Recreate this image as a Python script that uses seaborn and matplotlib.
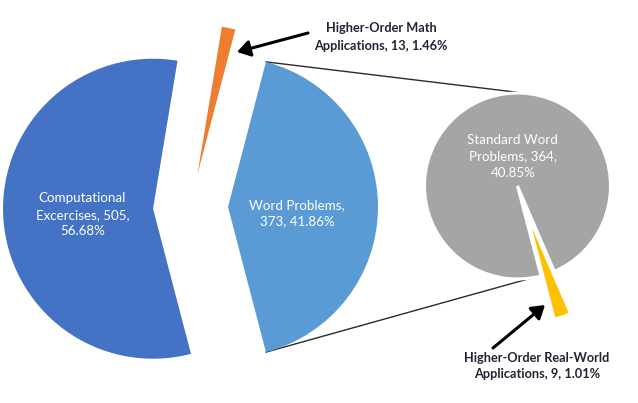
import numpy as np
import matplotlib
matplotlib.use("Agg")
import matplotlib.pyplot as plt
import seaborn as sns

# ---- data ----
main_labels = ["Word Problems", "Higher-Order Math\nApplications", "Computational\nExcercises"]
main_values = [373, 13, 505]
sub_labels = ["Standard Word\nProblems", "Higher-Order Real-World\nApplications"]
sub_values = [364, 9]

main_colors = ["#5B9BD5", "#ED7D31", "#4472C4"]
sub_colors = ["#A5A5A5", "#FFC000"]

sns.set_theme(style="white")
plt.rcParams["font.family"] = ["Lato", "DejaVu Sans"]

W, H = 638, 403
fig = plt.figure(figsize=(W / 100, H / 100), dpi=100)
ax = fig.add_axes([0, 0, 1, 1])

total = sum(main_values)
pct = lambda v: f"{v / total * 100:.2f}%"

def py(y):  # pixel-row to data y
    return H - y

# ---- main pie ----
c1 = (190.5, py(207))
r1 = 150
start1 = -main_values[0] / total * 180
w1, _ = ax.pie(main_values, colors=sns.color_palette(main_colors), radius=r1, center=c1,
               startangle=start1, counterclock=True,
               explode=[0.25 * r1, 0.22 * r1, 0.25 * r1],
               wedgeprops=dict(linewidth=0), frame=True)

# ---- sub pie ----
c2 = (517.5, py(186))
r2 = 93
s_frac = sub_values[0] / sum(sub_values) * 360
yellow_mid = -71.0
start2 = yellow_mid - s_frac - (360 - s_frac) / 2 + 360
w2, _ = ax.pie(sub_values, colors=sns.color_palette(sub_colors), radius=r2, center=c2,
               startangle=start2, counterclock=True, explode=[0, 0.47 * r2],
               wedgeprops=dict(linewidth=0), frame=True)
w2[0].set_edgecolor("white")
w2[0].set_linewidth(2.2)

# ---- connector lines ----
wp = w1[0]
cx, cy = wp.center
for th, th2 in [(wp.theta2, 84.0), (wp.theta1, -81.0)]:
    x0 = cx + wp.r * np.cos(np.radians(th))
    y0 = cy + wp.r * np.sin(np.radians(th))
    x1 = c2[0] + r2 * np.cos(np.radians(th2))
    y1 = c2[1] + r2 * np.sin(np.radians(th2))
    ax.plot([x0, x1], [y0, y1], color="#2b2b2b", lw=1.0, zorder=0.5)

# ---- in-slice labels ----
lab_kw = dict(color="white", fontsize=9.6, ha="center", va="center", linespacing=1.45)
comp = w1[2]
ax.text(comp.center[0] - 0.47 * r1, comp.center[1] - 0.04 * r1,
        f"{main_labels[2]}, {main_values[2]},\n{pct(main_values[2])}", **lab_kw)
ax.text(cx + 0.46 * r1, cy - 0.04 * r1,
        f"{main_labels[0]},\n{main_values[0]}, {pct(main_values[0])}", **lab_kw)
ax.text(c2[0] - 0.05 * r2, c2[1] + 0.32 * r2,
        f"{sub_labels[0]}, {sub_values[0]},\n{pct(sub_values[0])}", **lab_kw)

# ---- callouts ----
cal_kw = dict(color="#232336", fontsize=9.2, fontweight="bold", ha="center", va="center",
              linespacing=1.5)
arrow = dict(arrowstyle="-|>,head_length=0.55,head_width=0.35", color="black", lw=2.2,
             shrinkA=0, shrinkB=0, mutation_scale=14)
ax.text(381, py(37), f"{main_labels[1]}, {main_values[1]}, {pct(main_values[1])}", **cal_kw)
ax.annotate("", xy=(237, py(52)), xytext=(308, py(33)), arrowprops=arrow)
ax.text(537, py(366), f"{sub_labels[1]}, {sub_values[1]}, {pct(sub_values[1])}", **cal_kw)
ax.annotate("", xy=(545, py(305)), xytext=(493, py(348)), arrowprops=arrow)

ax.set_xlim(0, W)
ax.set_ylim(0, H)
ax.set_aspect("equal")
ax.axis("off")
fig.savefig("out.png", dpi=100)
